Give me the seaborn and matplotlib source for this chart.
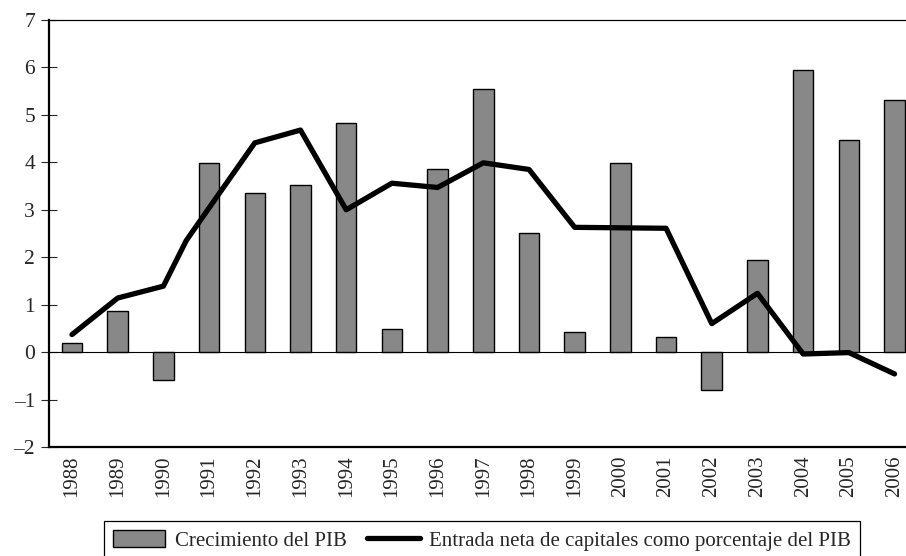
import numpy as np
import matplotlib
matplotlib.use("Agg")
import matplotlib.pyplot as plt
import seaborn as sns
from matplotlib.patches import Patch
from matplotlib.lines import Line2D

# ---- data ----
years = [str(y) for y in range(1988, 2007)]
gdp_growth = [0.20, 0.87, -0.58, 3.98, 3.36, 3.53, 4.82, 0.48, 3.87, 5.55,
              2.52, 0.43, 3.99, 0.32, -0.80, 1.95, 5.95, 4.48, 5.32]
line_years = [1988, 1989, 1990, 1990.5, 1991, 1992, 1993, 1994, 1995, 1996, 1997,
              1998, 1999, 2000, 2001, 2002, 2003, 2004, 2005, 2006]
capital_inflow = [0.37, 1.14, 1.39, 2.35, 3.04, 4.41, 4.68, 3.00, 3.56, 3.47, 3.99,
                  3.85, 2.63, 2.62, 2.61, 0.60, 1.24, -0.04, -0.01, -0.46]
y_ticks = [-2, -1, 0, 1, 2, 3, 4, 5, 6, 7]
label_bars = "Crecimiento del PIB"
label_line = "Entrada neta de capitales como porcentaje del PIB"

sns.set_style("white")
plt.rcParams['font.family'] = ['Liberation Serif', 'DejaVu Serif']
plt.rcParams['font.size'] = 15

fig = plt.figure(figsize=(9.06, 5.56), dpi=100)
ax = fig.add_axes([49/906, 1 - 447/556, 1 - 49/906, (447 - 20)/556])

bar_color = "#888888"
sns.barplot(x=years, y=gdp_growth, color=bar_color, edgecolor="black",
            linewidth=1.0, width=0.45, saturation=1, ax=ax, zorder=2)
line_pos = np.array(line_years) - 1988
sns.lineplot(x=line_pos, y=capital_inflow, sort=False, color="black",
             linewidth=3.8, ax=ax, zorder=3)

ax.axhline(0, color="black", linewidth=0.8, zorder=1)

ax.set_xlim(-0.503, 18.25)
ax.set_ylim(-2, 7)
ax.set_yticks(y_ticks)
ax.set_yticklabels([f"{t}".replace("-", "\u2013") for t in y_ticks], fontsize=15.5)
ax.set_xticks(range(len(years)))
ax.set_xticklabels(years, rotation=90, fontsize=15)
ax.tick_params(axis="y", direction="inout", length=12, width=0.8, pad=4, left=True)
ax.tick_params(axis="x", length=0, pad=6)
ax.set_xlabel("")
ax.set_ylabel("")

for s in ["left", "bottom"]:
    ax.spines[s].set_linewidth(1.6)
    ax.spines[s].set_color("black")
ax.spines["top"].set_linewidth(0.9)
ax.spines["top"].set_color("black")
ax.spines["right"].set_visible(False)

handles = [Patch(facecolor=bar_color, edgecolor="black", linewidth=1.0),
           Line2D([0], [0], color="black", linewidth=3.8)]
leg = fig.legend(handles, [label_bars, label_line], ncol=2, loc="upper center",
                 bbox_to_anchor=(482/906, 1 - 521/556), frameon=True,
                 fancybox=False, edgecolor="black", framealpha=1,
                 handlelength=2.5, handleheight=0.85, handletextpad=0.45,
                 columnspacing=1.0, borderpad=0.45, borderaxespad=0,
                 fontsize=15)
leg.get_frame().set_linewidth(0.9)

fig.savefig("out.png", dpi=100)
